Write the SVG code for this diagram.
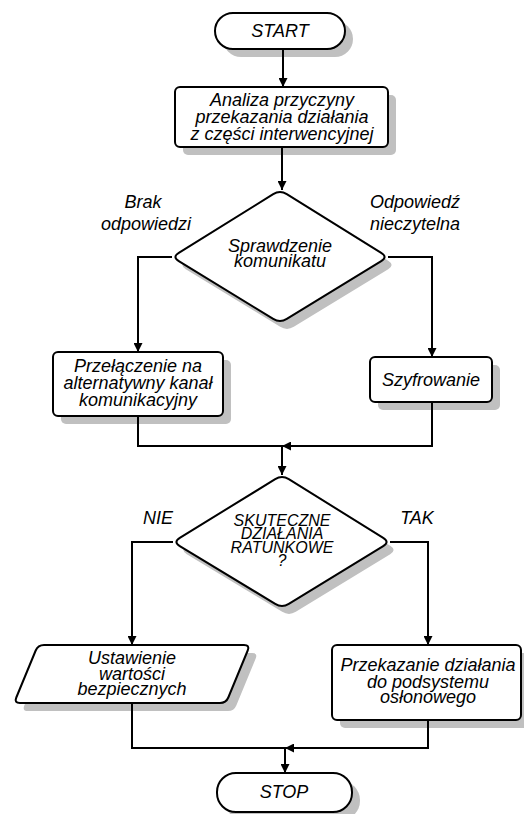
<svg xmlns="http://www.w3.org/2000/svg" width="524" height="814" viewBox="0 0 524 814">
<defs>
<marker id="ah" viewBox="0 0 10 10" refX="10" refY="5" markerWidth="10" markerHeight="9" markerUnits="userSpaceOnUse" orient="auto">
<path d="M0,0 L10,5 L0,10 Z" fill="#000"/>
</marker>
</defs>
<style>
.sh{fill:#c0c0c0;stroke:none}
.nd{fill:#fff;stroke:#000;stroke-width:2;stroke-linejoin:round}
.t{font-family:"Liberation Sans",Arial,sans-serif;font-style:italic;font-size:18px;fill:#000;text-anchor:middle;dominant-baseline:central}
.ts{font-family:"Liberation Sans",Arial,sans-serif;font-style:italic;font-size:16px;fill:#000;text-anchor:middle;dominant-baseline:central}
.c{fill:none;stroke:#000;stroke-width:2}
</style>
<rect width="524" height="814" fill="#fff"/>

<g id="start">
<rect class="sh" x="223" y="21" width="130" height="36" rx="18"/>
<rect class="nd" x="215" y="13" width="130" height="36" rx="18"/>
<text class="t" x="280" y="31">START</text>
</g>

<g id="analiza">
<rect class="sh" x="183" y="95" width="213" height="60" rx="5"/>
<rect class="nd" x="175" y="87" width="213" height="60" rx="5"/>
<text class="t" x="282" y="100">Analiza przyczyny</text>
<text class="t" x="282" y="117">przekazania działania</text>
<text class="t" x="282" y="134">z części interwencyjnej</text>
</g>

<g id="sprawdzenie">
<path class="sh" d="M293.8,202.2 L388.2,260.8 Q395,265 388.2,269.2 L293.8,326.8 Q287,331 280.2,326.8 L185.8,269.2 Q179,265 185.8,260.8 L280.2,202.2 Q287,198 293.8,202.2 Z"/>
<path class="nd" d="M286.8,194.2 L381.2,252.8 Q388,257 381.2,261.2 L286.8,318.8 Q280,323 273.2,318.8 L178.8,261.2 Q172,257 178.8,252.8 L273.2,194.2 Q280,190 286.8,194.2 Z"/>
<text class="t" x="280" y="246">Sprawdzenie</text>
<text class="t" x="280" y="261">komunikatu</text>
</g>

<g id="lbl-brak">
<text class="t" x="143" y="202">Brak</text>
<text class="t" x="146" y="224">odpowiedzi</text>
</g>
<g id="lbl-odp">
<text class="t" x="415" y="202">Odpowiedź</text>
<text class="t" x="415" y="224">nieczytelna</text>
</g>

<g id="przelaczenie">
<rect class="sh" x="61" y="360" width="170" height="64" rx="5"/>
<rect class="nd" x="53" y="352" width="170" height="64" rx="5"/>
<text class="t" x="138" y="366">Przełączenie na</text>
<text class="t" x="138" y="383">alternatywny kanał</text>
<text class="t" x="138" y="400">komunikacyjny</text>
</g>

<g id="szyfrowanie">
<rect class="sh" x="378" y="365" width="122" height="45" rx="5"/>
<rect class="nd" x="370" y="357" width="122" height="45" rx="5"/>
<text class="t" x="431" y="380">Szyfrowanie</text>
</g>

<g id="skuteczne">
<path class="sh" d="M295.8,487.2 L390.2,545.8 Q397,550 390.2,554.2 L295.8,611.8 Q289,616 282.2,611.8 L186.8,554.2 Q180,550 186.8,545.8 L282.2,487.2 Q289,483 295.8,487.2 Z"/>
<path class="nd" d="M288.8,479.2 L383.2,537.8 Q390,542 383.2,546.2 L288.8,603.8 Q282,608 275.2,603.8 L179.8,546.2 Q173,542 179.8,537.8 L275.2,479.2 Q282,475 288.8,479.2 Z"/>
<text class="ts" x="282" y="520">SKUTECZNE</text>
<text class="ts" x="282" y="533">DZIAŁANIA</text>
<text class="ts" x="282" y="547">RATUNKOWE</text>
<text class="ts" x="282" y="560">?</text>
</g>

<g id="lbl-nie"><text class="t" x="158" y="518">NIE</text></g>
<g id="lbl-tak"><text class="t" x="417" y="518">TAK</text></g>

<g id="ustawienie">
<path class="sh" d="M52,653 L252,653 Q258,653 255.7,658.5 L236.3,705.5 Q234,711 228,711 L28,711 Q22,711 24.3,705.5 L43.7,658.5 Q46,653 52,653 Z"/>
<path class="nd" d="M44,645 L244,645 Q250,645 247.7,650.5 L228.3,697.5 Q226,703 220,703 L20,703 Q14,703 16.3,697.5 L35.7,650.5 Q38,645 44,645 Z"/>
<text class="t" x="132" y="658">Ustawienie</text>
<text class="t" x="132" y="674">wartości</text>
<text class="t" x="132" y="689">bezpiecznych</text>
</g>

<g id="przekazanie">
<rect class="sh" x="340" y="653" width="190" height="75" rx="5"/>
<rect class="nd" x="332" y="645" width="189" height="75" rx="5"/>
<text class="t" x="428" y="665">Przekazanie działania</text>
<text class="t" x="428" y="682">do podsystemu</text>
<text class="t" x="428" y="697">osłonowego</text>
</g>

<g id="stop">
<rect class="sh" x="225" y="781" width="135" height="39" rx="19"/>
<rect class="nd" x="217" y="773" width="135" height="39" rx="19"/>
<text class="t" x="284" y="792">STOP</text>
</g>

<g id="connectors">
<path class="c" d="M283,49 L283,87" marker-end="url(#ah)"/>
<path class="c" d="M282,147 L282,190" marker-end="url(#ah)"/>
<path class="c" d="M172,257 L138,257 L138,352" marker-end="url(#ah)"/>
<path class="c" d="M388,257 L432,257 L432,357" marker-end="url(#ah)"/>
<path class="c" d="M138,416 L138,446 L282,446"/>
<path class="c" d="M432,402 L432,446 L282,446" marker-end="url(#ah)"/>
<path class="c" d="M282,446 L282,475" marker-end="url(#ah)"/>
<path class="c" d="M173,542 L132,542 L132,645" marker-end="url(#ah)"/>
<path class="c" d="M390,542 L428,542 L428,645" marker-end="url(#ah)"/>
<path class="c" d="M132,703 L132,748 L285,748"/>
<path class="c" d="M428,720 L428,748 L285,748" marker-end="url(#ah)"/>
<path class="c" d="M285,748 L285,773" marker-end="url(#ah)"/>
</g>
</svg>
